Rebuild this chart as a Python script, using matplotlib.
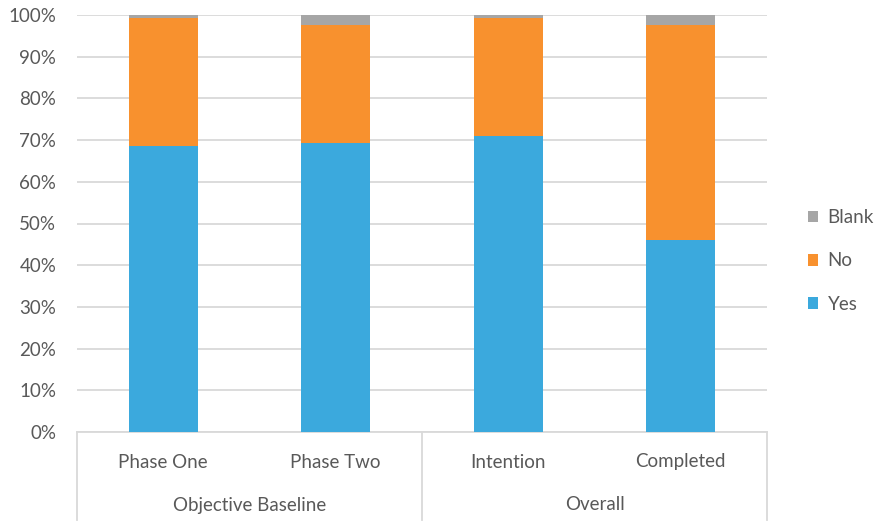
import matplotlib
matplotlib.use("Agg")
import matplotlib.pyplot as plt
from matplotlib.ticker import FuncFormatter, MultipleLocator

categories = ["Phase One", "Phase Two", "Intention", "Completed"]
groups = ["Objective Baseline", "Overall"]
group_sizes = [2, 2]
yes = [68.5, 69.2, 71.1, 46.0]
no = [30.7, 28.5, 28.1, 51.7]
blank = [0.8, 2.3, 0.8, 2.3]

c_yes = "#3BA9DD"
c_no = "#F8912E"
c_blank = "#A6A6A6"
txt = "#595959"
grid_c = "#D9D9D9"
fs = 13.5

plt.rcParams['font.family'] = ['Lato', 'DejaVu Sans']

fig = plt.figure(figsize=(8.77, 5.25), dpi=100)
W, H = 877, 525
left, right, top, bottom = 77, 767, 15, 432
ax = fig.add_axes([left / W, 1 - bottom / H, (right - left) / W, (bottom - top) / H])

x = list(range(len(categories)))
bw = 0.4
ax.bar(x, yes, width=bw, color=c_yes, label="Yes", zorder=3)
ax.bar(x, no, width=bw, bottom=yes, color=c_no, label="No", zorder=3)
bot3 = [a + b for a, b in zip(yes, no)]
ax.bar(x, blank, width=bw, bottom=bot3, color=c_blank, label="Blank", zorder=3)

ax.set_xlim(-0.5, len(categories) - 0.5)
ax.set_ylim(0, 100)
ax.yaxis.set_major_locator(MultipleLocator(10))
ax.yaxis.set_major_formatter(FuncFormatter(lambda v, p: f"{int(round(v))}%"))
ax.grid(axis="y", color=grid_c, linewidth=1.3, zorder=0)
for s in ["top", "right", "left"]:
    ax.spines[s].set_visible(False)
ax.spines["bottom"].set_color(grid_c)
ax.spines["bottom"].set_linewidth(1.3)
ax.tick_params(axis="y", length=0, pad=15, labelsize=fs, labelcolor=txt)
ax.set_xticks([])

# multi-level category axis
ax_bottom_px = 520
yb = -(ax_bottom_px - bottom) / (bottom - top) * 100
boundaries = [-0.5]
acc = -0.5
for g in group_sizes:
    acc += g
    boundaries.append(acc)
for b in boundaries:
    ax.plot([b, b], [0, yb], color=grid_c, linewidth=1.3, clip_on=False, zorder=1)

cat_y = -(462 - bottom) / (bottom - top) * 100
grp_y = -(505 - bottom) / (bottom - top) * 100
for i, c in enumerate(categories):
    ax.text(i, cat_y, c, ha="center", va="center", fontsize=fs, color=txt, clip_on=False)
start = -0.5
for g, n in zip(groups, group_sizes):
    ax.text(start + n / 2, grp_y, g, ha="center", va="center", fontsize=fs, color=txt, clip_on=False)
    start += n

handles, labels = ax.get_legend_handles_labels()
leg = fig.legend(handles[::-1], labels[::-1], loc="center left",
                 bbox_to_anchor=(808 / W, 1 - 261 / H), frameon=False,
                 borderaxespad=0, borderpad=0,
                 fontsize=fs, labelcolor=txt, handlelength=0.55, handleheight=0.55,
                 handletextpad=0.5, labelspacing=1.4)

fig.savefig("out.png", dpi=100, facecolor="white")
